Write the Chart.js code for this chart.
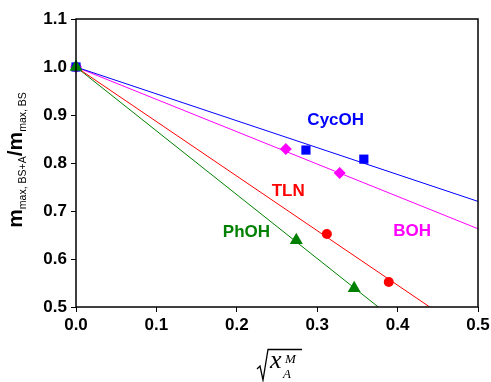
<!DOCTYPE html>
<html>
<head>
<meta charset="utf-8">
<script src="https://cdn.jsdelivr.net/npm/chart.js@4"></script>
<style>
  html, body { margin: 0; padding: 0; background: #fff; }
  #wrap { width: 491px; height: 382px; }
</style>
</head>
<body>
<div id="wrap"><canvas id="chart" width="491" height="382"></canvas></div>
<script>
// measured points (sqrt(x_A^M), m ratio)
const cycohX = [0, 0.286, 0.358];
const cycohY = [1.0, 0.827, 0.808];
const bohX = [0, 0.261, 0.328];
const bohY = [1.0, 0.829, 0.779];
const tlnX = [0, 0.312, 0.389];
const tlnY = [1.0, 0.652, 0.552];
const phohX = [0, 0.274, 0.346];
const phohY = [1.0, 0.639, 0.539];

// fitted lines, start and end
const cycohFitX = [0, 0.5];
const cycohFitY = [1.0, 0.720];
const bohFitX = [0, 0.5];
const bohFitY = [1.0, 0.663];
const tlnFitX = [0, 0.440];
const tlnFitY = [1.0, 0.5];
const phohFitX = [0, 0.376];
const phohFitY = [1.0, 0.5];

const seriesNames = ['CycOH', 'BOH', 'TLN', 'PhOH'];
const labelX = [0.323, 0.418, 0.264, 0.212];
const labelY = [0.888, 0.657, 0.741, 0.655];

const xTicks = [0, 0.1, 0.2, 0.3, 0.4, 0.5];
const yTicks = [0.5, 0.6, 0.7, 0.8, 0.9, 1.0, 1.1];

const BLUE = '#0000ff', MAGENTA = '#ff00ff', RED = '#ff0000', GREEN = '#008000';
const colors = [BLUE, MAGENTA, RED, GREEN];

const pts = (xs, ys) => xs.map((x, i) => ({ x: x, y: ys[i] }));

// order: lower number ends up on top
function markers(xs, ys, color, style, r, order) {
    return {
        data: pts(xs, ys), showLine: false, pointStyle: style, pointRadius: r,
        backgroundColor: color, borderColor: color, borderWidth: 0, order: order, clip: false
    };
}
function fit(xs, ys, color) {
    return {
        data: pts(xs, ys), showLine: true, pointRadius: 0, borderColor: color,
        borderWidth: 1, backgroundColor: color, order: 10
    };
}

// frame, series labels and axis titles
const decor = {
    id: 'decor',
    afterDatasetsDraw(chart) {
        const ctx = chart.ctx;
        const a = chart.chartArea;
        const xs = chart.scales.x, ys = chart.scales.y;
        ctx.save();
        ctx.strokeStyle = '#000';
        ctx.lineWidth = 1.5;
        ctx.strokeRect(a.left, a.top, a.right - a.left, a.bottom - a.top);

        ctx.font = 'bold 17px "Liberation Sans", Arial, sans-serif';
        ctx.textAlign = 'center';
        ctx.textBaseline = 'middle';
        seriesNames.forEach((n, i) => {
            ctx.fillStyle = colors[i];
            ctx.fillText(n, xs.getPixelForValue(labelX[i]), ys.getPixelForValue(labelY[i]));
        });

        // y title
        ctx.fillStyle = '#000';
        ctx.translate(22, 160);
        ctx.rotate(-Math.PI / 2);
        ctx.textAlign = 'left';
        ctx.textBaseline = 'alphabetic';
        const big = 'bold 21px "Liberation Sans", Arial, sans-serif';
        const small = '10.5px "Liberation Sans", Arial, sans-serif';
        const parts = [['m', big, 0], ['max, BS+A', small, 4], ['/m', big, 0], ['max, BS', small, 4]];
        let w = 0;
        parts.forEach(p => { ctx.font = p[1]; w += ctx.measureText(p[0]).width; });
        let px = -w / 2;
        parts.forEach(p => {
            ctx.font = p[1];
            ctx.fillText(p[0], px, p[2]);
            px += ctx.measureText(p[0]).width;
        });
        ctx.restore();

        // x title: sqrt(x_A^M)
        ctx.save();
        ctx.strokeStyle = '#000';
        ctx.fillStyle = '#000';
        ctx.lineWidth = 1.3;
        ctx.beginPath();
        ctx.moveTo(257, 369);
        ctx.lineTo(260, 366);
        ctx.lineTo(263, 380);
        ctx.lineTo(268, 349.5);
        ctx.lineTo(302, 349.5);
        ctx.stroke();
        ctx.font = 'italic 26px "Liberation Serif", "Times New Roman", serif';
        ctx.textAlign = 'left';
        ctx.fillText('x', 270, 368);
        ctx.font = 'italic 13px "Liberation Serif", "Times New Roman", serif';
        ctx.fillText('M', 285, 363);
        ctx.fillText('A', 283, 378);
        ctx.restore();
    }
};

new Chart(document.getElementById('chart'), {
    type: 'scatter',
    data: {
        datasets: [
            markers(cycohX, cycohY, BLUE, 'rect', 6.5, 1),
            markers(bohX, bohY, MAGENTA, 'rectRot', 6, 2),
            markers(tlnX, tlnY, RED, 'circle', 5, 3),
            markers(phohX, phohY, GREEN, 'triangle', 7.5, 0),
            fit(cycohFitX, cycohFitY, BLUE),
            fit(bohFitX, bohFitY, MAGENTA),
            fit(tlnFitX, tlnFitY, RED),
            fit(phohFitX, phohFitY, GREEN)
        ]
    },
    options: {
        responsive: false,
        animation: false,
        layout: { padding: { left: 2, right: 13, top: 19, bottom: 0 } },
        plugins: { legend: { display: false }, tooltip: { enabled: false } },
        scales: {
            x: {
                type: 'linear', min: 0, max: 0.5,
                afterBuildTicks: s => { s.ticks = xTicks.map(v => ({ value: v })); },
                afterFit: s => { s.height = 75; s.paddingLeft = 0; s.paddingRight = 0; },
                grid: { drawOnChartArea: false, drawTicks: true, tickLength: 5, color: '#000', lineWidth: 1 },
                border: { display: false },
                ticks: {
                    color: '#000', padding: 3, maxRotation: 0,
                    font: { family: '"Liberation Sans", Arial, sans-serif', size: 17, weight: 'bold' },
                    callback: v => v.toFixed(1)
                }
            },
            y: {
                type: 'linear', min: 0.5, max: 1.1,
                afterBuildTicks: s => { s.ticks = yTicks.map(v => ({ value: v })); },
                afterFit: s => { s.width = 74; s.paddingTop = 0; s.paddingBottom = 0; },
                grid: { drawOnChartArea: false, drawTicks: true, tickLength: 5, color: '#000', lineWidth: 1 },
                border: { display: false },
                ticks: {
                    color: '#000', padding: 4,
                    font: { family: '"Liberation Sans", Arial, sans-serif', size: 17, weight: 'bold' },
                    callback: v => v.toFixed(1)
                }
            }
        }
    },
    plugins: [decor]
});
</script>
</body>
</html>
